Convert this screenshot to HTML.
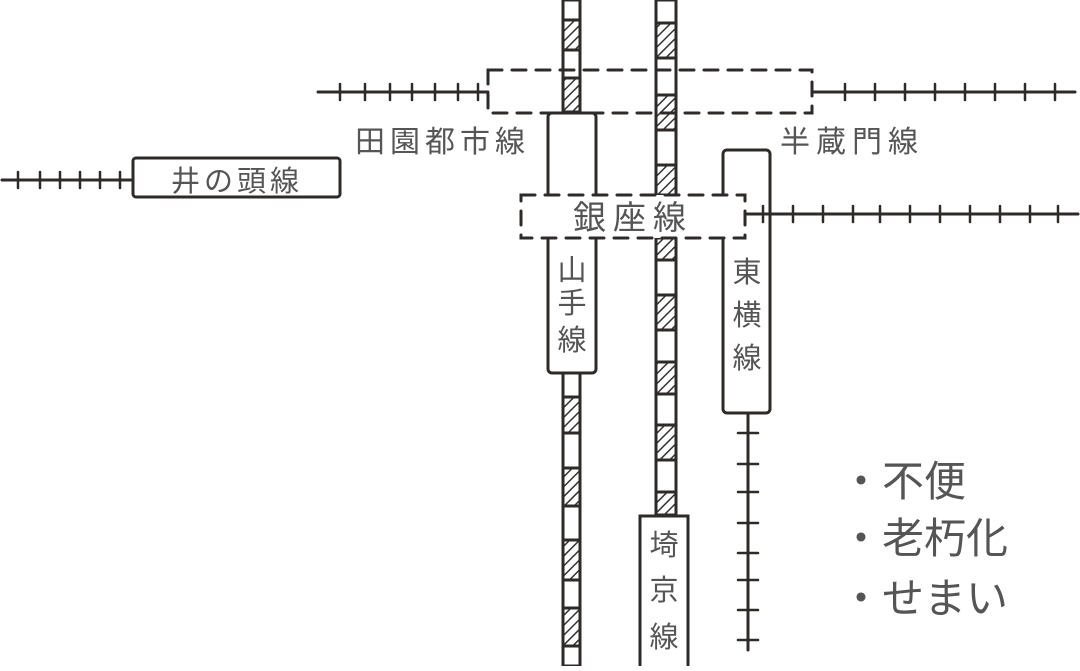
<!DOCTYPE html>
<html><head><meta charset="utf-8"><style>
body{margin:0;background:#fff}
svg text{font-family:"Liberation Sans","Noto Sans CJK JP",sans-serif;fill:#555}
</style></head><body>
<svg width="1080" height="666" viewBox="0 0 1080 666" xmlns="http://www.w3.org/2000/svg">
<defs>
<pattern id="h" width="7" height="7" patternUnits="userSpaceOnUse" patternTransform="rotate(45)">
<rect width="7" height="7" fill="#fff"/><line x1="0" y1="0" x2="0" y2="7" stroke="#333" stroke-width="3"/>
</pattern>
</defs>
<g stroke="#2e2a28" stroke-width="3" fill="none" stroke-linecap="round">
<line x1="2" y1="180" x2="133" y2="180"/>
<g stroke-width="2.5"><line x1="18" y1="172" x2="18" y2="188"/><line x1="40" y1="172" x2="40" y2="188"/><line x1="60" y1="172" x2="60" y2="188"/><line x1="80" y1="172" x2="80" y2="188"/><line x1="100" y1="172" x2="100" y2="188"/><line x1="120" y1="172" x2="120" y2="188"/></g>
<rect x="133" y="158" width="207" height="39" rx="3" fill="#fff"/>
<line x1="318" y1="92" x2="488" y2="92"/>
<g stroke-width="2.5"><line x1="340" y1="84" x2="340" y2="100"/><line x1="365" y1="84" x2="365" y2="100"/><line x1="390" y1="84" x2="390" y2="100"/><line x1="412" y1="84" x2="412" y2="100"/><line x1="435" y1="84" x2="435" y2="100"/><line x1="458" y1="84" x2="458" y2="100"/><line x1="478" y1="84" x2="478" y2="100"/></g>
<line x1="812" y1="92" x2="1075" y2="92"/>
<g stroke-width="2.5"><line x1="845" y1="84" x2="845" y2="100"/><line x1="875" y1="84" x2="875" y2="100"/><line x1="905" y1="84" x2="905" y2="100"/><line x1="935" y1="84" x2="935" y2="100"/><line x1="965" y1="84" x2="965" y2="100"/><line x1="995" y1="84" x2="995" y2="100"/><line x1="1025" y1="84" x2="1025" y2="100"/><line x1="1055" y1="84" x2="1055" y2="100"/></g>
<rect x="563" y="0" width="17" height="666" fill="#fff"/>
<g fill="url(#h)">
<rect x="563" y="20" width="17" height="30"/><rect x="563" y="78" width="17" height="34"/>
<rect x="563" y="397" width="17" height="36"/><rect x="563" y="468" width="17" height="38"/>
<rect x="563" y="540" width="17" height="40"/><rect x="563" y="608" width="17" height="38"/>
</g>
<rect x="656" y="0" width="20" height="516" fill="#fff"/>
<g fill="url(#h)">
<rect x="656" y="23" width="20" height="35"/><rect x="656" y="95" width="20" height="35"/>
<rect x="656" y="165" width="20" height="30"/><rect x="656" y="238" width="20" height="22"/>
<rect x="656" y="295" width="20" height="35"/><rect x="656" y="362" width="20" height="32"/>
<rect x="656" y="425" width="20" height="35"/><rect x="656" y="492" width="20" height="23"/>
</g>
<rect x="548" y="113" width="48" height="260" rx="4" fill="#fff"/>
<line x1="748" y1="413" x2="748" y2="650"/>
<g stroke-width="2.5"><line x1="738" y1="433" x2="758" y2="433"/><line x1="738" y1="464" x2="758" y2="464"/><line x1="738" y1="492" x2="758" y2="492"/><line x1="738" y1="523" x2="758" y2="523"/><line x1="738" y1="553" x2="758" y2="553"/><line x1="738" y1="580" x2="758" y2="580"/><line x1="738" y1="610" x2="758" y2="610"/><line x1="738" y1="640" x2="758" y2="640"/></g>
<rect x="723" y="150" width="47" height="263" rx="4" fill="#fff"/>
<line x1="745" y1="214" x2="1078" y2="214"/>
<g stroke-width="2.5"><line x1="763" y1="206" x2="763" y2="222"/><line x1="793" y1="206" x2="793" y2="222"/><line x1="823" y1="206" x2="823" y2="222"/><line x1="853" y1="206" x2="853" y2="222"/><line x1="880" y1="206" x2="880" y2="222"/><line x1="910" y1="206" x2="910" y2="222"/><line x1="940" y1="206" x2="940" y2="222"/><line x1="970" y1="206" x2="970" y2="222"/><line x1="1000" y1="206" x2="1000" y2="222"/><line x1="1030" y1="206" x2="1030" y2="222"/><line x1="1058" y1="206" x2="1058" y2="222"/></g>
<rect x="640" y="516" width="48" height="155" fill="#fff"/>
<rect x="488" y="70" width="324" height="43" stroke-dasharray="14 10"/>
<rect x="521" y="195" width="224" height="43" fill="#fff" stroke-dasharray="14 10"/>
</g>
<text x="237" y="191" font-size="29" text-anchor="middle" letter-spacing="4">井の頭線</text>
<text x="355" y="152" font-size="30" letter-spacing="5">田園都市線</text>
<text x="780" y="152" font-size="30" letter-spacing="6">半蔵門線</text>
<text x="633" y="229" font-size="33" text-anchor="middle" letter-spacing="7">銀座線</text>
<g font-size="29" text-anchor="middle">
<text x="572" y="280">山</text><text x="572" y="313">手</text><text x="572" y="350">線</text>
<text x="747" y="282">東</text><text x="747" y="325">横</text><text x="747" y="368">線</text>
<text x="664" y="555">埼</text><text x="664" y="600">京</text><text x="664" y="647">線</text>
</g>
<g font-size="42" fill="#444">
<text x="840" y="496">・不便</text>
<text x="840" y="553">・老朽化</text>
<text x="840" y="613">・せまい</text>
</g>
</svg>
</body></html>
